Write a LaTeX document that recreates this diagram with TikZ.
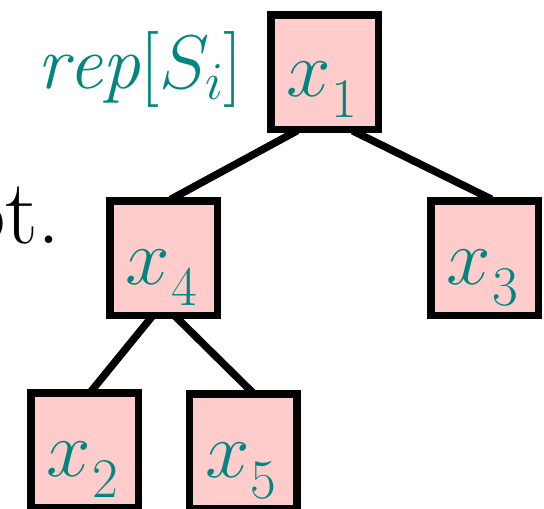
\RequirePackage{fix-cm}
\documentclass[tikz,border=0pt]{standalone}
\usepackage{fontspec}
\usetikzlibrary{backgrounds}
\definecolor{tealc}{RGB}{0,134,128}
\definecolor{pinkc}{RGB}{255,204,204}
\newcommand\xsub[1]{$x$\kern1pt\raisebox{-0.27em}{\fontsize{56}{56}\selectfont #1}}
\begin{document}
\begin{tikzpicture}[x=1pt,y=-1pt,
  box/.style={draw=black,line width=7.5pt,fill=pinkc,minimum width=107.5pt,minimum height=114.5pt,inner sep=0pt},
  lbl/.style={text=tealc,font=\fontsize{80}{80}\selectfont,anchor=base,inner sep=0pt},
  edge/.style={draw=black,line width=7.5pt,shorten <=-5pt,shorten >=-5pt}]
\useasboundingbox (0,0) rectangle (544,509);
\node[box] (x1) at (324.5,72) {};
\node[box] (x4) at (163.5,258) {};
\node[box] (x3) at (484.5,258) {};
\node[box] (x2) at (84.5,450) {};
\node[box] (x5) at (243,451) {};
\node[lbl] (t1) at (322,96) {\xsub{1}};
\node[lbl] (t4) at (161.5,284) {\xsub{4}};
\node[lbl] (t3) at (482.5,284) {\xsub{3}};
\node[lbl] (t2) at (82.5,476) {\xsub{2}};
\node[lbl] (t5) at (241,477) {\xsub{5}};
\node[anchor=base east,text=tealc,font=\fontsize{76}{76}\selectfont,inner sep=0pt] (rep) at (243,88) {$\mathit{rep}[S_i]$};
\node[anchor=base east,font=\fontsize{92}{92}\selectfont,inner sep=0pt] (root) at (61,243) {ot.};
\begin{pgfonlayer}{background}
\draw[edge] ([xshift=-31.5pt]x1.south) -- ([xshift=11.5pt]x4.north);
\draw[edge] ([xshift=32.5pt]x1.south) -- ([xshift=2.5pt]x3.north);
\draw[edge] ([xshift=-13.5pt]x4.south) -- ([xshift=8.5pt]x2.north);
\draw[edge] ([xshift=14.5pt]x4.south) -- ([xshift=7pt]x5.north);
\end{pgfonlayer}
\end{tikzpicture}
\end{document}
